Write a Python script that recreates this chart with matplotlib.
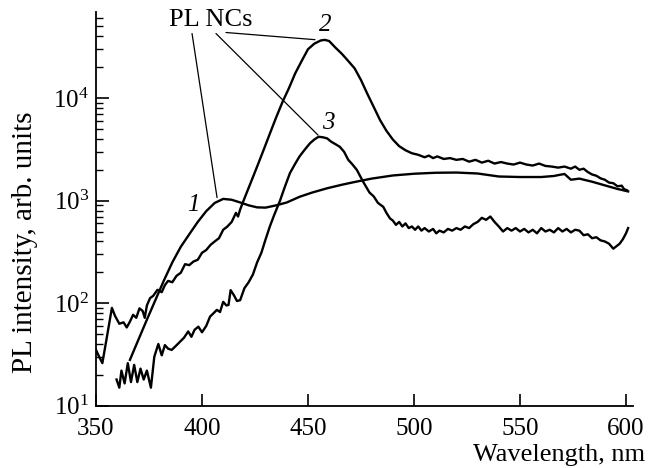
import matplotlib
matplotlib.use("Agg")
import matplotlib.pyplot as plt
from matplotlib.ticker import LogLocator, NullFormatter

plt.rcParams['font.family'] = ['Liberation Serif', 'DejaVu Serif']
plt.rcParams['mathtext.fontset'] = 'custom'
plt.rcParams['mathtext.rm'] = 'Liberation Serif'
plt.rcParams['mathtext.it'] = 'Liberation Serif:italic'

# curve 1 (smooth)
wl1 = [366, 370, 374, 378, 382, 386, 390, 394, 398, 402, 406, 410, 414, 418,
       422, 426, 430, 435, 440, 446, 452, 459, 466, 472, 480, 490, 500, 510,
       520, 530, 540, 550, 560, 566, 569, 571, 574, 578, 584, 590, 596, 601]
pl1 = [28, 44, 69, 107, 166, 250, 355, 470, 620, 790, 950, 1040, 1020, 960,
       900, 860, 855, 900, 960, 1090, 1200, 1320, 1430, 1520, 1640, 1760, 1830, 1870,
       1880, 1840, 1720, 1700, 1700, 1740, 1790, 1820, 1600, 1640, 1530, 1410, 1300, 1230]

# curve 2
wl2 = [350, 351.5, 353, 355, 357.5, 359, 361, 363, 364.5, 366, 367.5, 369, 370.5,
       372, 373, 374, 375.5, 377, 379, 381, 382.5, 384, 386, 388, 390, 392, 394,
       396, 398, 400, 402, 404, 406, 408, 410, 412, 414, 416, 417, 418, 420, 423,
       426, 429, 432, 435, 438, 441, 444, 447, 450, 453, 456, 458, 460, 463, 466,
       469, 472, 475, 478, 481, 484, 487, 490, 493, 496, 499, 502, 505, 507, 509,
       511, 514, 517, 520, 523, 526, 529, 532, 535, 538, 541, 544, 547, 550, 553,
       556, 559, 562, 565, 568, 571, 574, 576, 578, 580, 582, 584, 586, 588, 590,
       592, 594, 596, 598, 599, 600.5]
pl2 = [35, 30, 26, 45, 90, 75, 63, 65, 58, 66, 77, 72, 89,
       84, 72, 95, 112, 118, 135, 128, 150, 165, 160, 185, 198, 240, 235,
       255, 265, 310, 330, 370, 400, 430, 520, 560, 620, 760, 700, 820, 1050, 1500,
       2150, 3100, 4500, 6500, 9200, 12500, 17500, 23000, 30000, 34000, 36500, 37000, 36000, 31000, 27000,
       23000, 19500, 15000, 11000, 8200, 6100, 4800, 3950, 3400, 3100, 2900, 2800, 2650, 2750, 2600,
       2700, 2550, 2600, 2500, 2550, 2400, 2500, 2350, 2450, 2300, 2380, 2300, 2250, 2350, 2250,
       2200, 2300, 2180, 2150, 2100, 2150, 2050, 2150, 2000, 2050, 1900, 1800, 1750, 1650, 1600,
       1500, 1480, 1380, 1400, 1300, 1260]

# curve 3
wl3 = [359.7, 361, 362, 363.5, 365, 366.5, 368, 369.5, 371, 372.5, 374, 375.9,
       377.5, 379.4, 381, 382.5, 384, 385.7, 387.5, 389.6, 391.5, 393.5, 395, 396.5,
       398.3, 400, 402, 403.8, 405.5, 407, 408.5, 410, 411.5, 412.5, 413.5, 415,
       416.5, 418, 420, 422, 424, 426, 428, 430, 432, 434, 436.8, 439, 441.5, 444,
       446, 448.5, 451, 453, 455, 457, 459, 461, 463, 465, 467, 469, 471, 473, 476,
       479, 481, 483, 485.5, 487, 488.7, 490, 491.5, 493, 494.5, 496, 497.5, 499,
       500.5, 502, 503.5, 505, 507, 509, 510.5, 512, 514, 516, 518, 520, 522, 524,
       526, 528, 530, 532, 534, 536, 538, 540, 542, 544, 546, 548, 550, 552, 554,
       556, 558, 560, 562, 564, 566, 568, 570, 572, 574, 576, 578, 580, 582, 584,
       586, 588, 590, 592, 594, 595.5, 597, 598.5, 600, 601]
pl3 = [18, 15, 22, 16.5, 26, 17, 25, 17, 23, 18, 22, 15,
       30, 40, 31, 39, 36, 35, 38, 42, 46, 53, 47, 55,
       59, 52, 60, 74, 80, 86, 82, 103, 95, 96, 134, 120,
       105, 107, 140, 160, 190, 250, 310, 420, 560, 720, 1000, 1350, 1860, 2300,
       2700, 3150, 3640, 3950, 4200, 4150, 4050, 3750, 3550, 3350, 3000, 2500, 2250, 2000, 1530,
       1200, 1100, 950, 870, 760, 670, 640, 580, 620, 560, 600, 540, 560,
       520, 560, 510, 540, 500, 530, 480, 510, 490, 530, 510, 540, 520, 560,
       540, 590, 620, 680, 650, 700, 620, 560, 500, 540, 510, 540, 500, 530, 490,
       520, 480, 540, 500, 520, 490, 540, 500, 530, 490, 520, 510, 460, 470, 430,
       440, 410, 400, 380, 340, 360, 380, 420, 480, 540]

fig = plt.figure(figsize=(6.57, 4.68), dpi=100)
ax = fig.add_axes([96 / 657, 1 - 405.7 / 468, 537 / 657, 393.7 / 468])

for wl, pl in [(wl1, pl1), (wl2, pl2), (wl3, pl3)]:
    ax.plot(wl, pl, color='black', lw=1.7)

ax.set_yscale('log')
ax.set_xlim(350, 603.3)
ax.set_ylim(10, 10 ** 4.84)
ax.set_xticks([350, 400, 450, 500, 550, 600])
ax.yaxis.set_major_locator(LogLocator(base=10, numticks=10))
ax.yaxis.set_minor_locator(LogLocator(base=10, subs=range(2, 10), numticks=20))
ax.yaxis.set_minor_formatter(NullFormatter())

for s in ['top', 'right']:
    ax.spines[s].set_visible(False)
for s in ['left', 'bottom']:
    ax.spines[s].set_linewidth(1.3)

ax.tick_params(axis='both', which='major', direction='in', length=9, width=1.2,
               labelsize=18)
ax.tick_params(axis='x', which='major', pad=9)
ax.tick_params(axis='y', which='major', pad=5)
ax.tick_params(axis='y', which='minor', direction='in', length=5, width=1.0)

fig.text(25 / 657, 1 - 242 / 468, 'PL intensity, arb. units', rotation=90,
         ha='center', va='center', fontsize=21)
fig.text(645 / 657, 1 - 461 / 468, 'Wavelength, nm', ha='right', va='baseline', fontsize=19)

# annotation leaders
ax.text(404.2, 10 ** 4.76, 'PL NCs', ha='center', va='center', fontsize=19)
leaders = [((395.3, 10 ** 4.63), (407.1, 10 ** 3.03)),
           ((406.6, 10 ** 4.63), (454.7, 10 ** 3.64)),
           ((411.3, 10 ** 4.64), (453.3, 10 ** 4.57))]
for start, end in leaders:
    ax.annotate('', xy=end, xytext=start,
                arrowprops=dict(arrowstyle='-', lw=0.9, color='black',
                                shrinkA=0, shrinkB=0))
ax.text(395.8, 10 ** 2.96, '1', style='italic', ha='center', va='center', fontsize=18)
ax.text(458, 10 ** 4.71, '2', style='italic', ha='center', va='center', fontsize=18)
ax.text(459.4, 10 ** 3.755, '3', style='italic', ha='center', va='center', fontsize=18)

fig.savefig('out.png', dpi=100)
